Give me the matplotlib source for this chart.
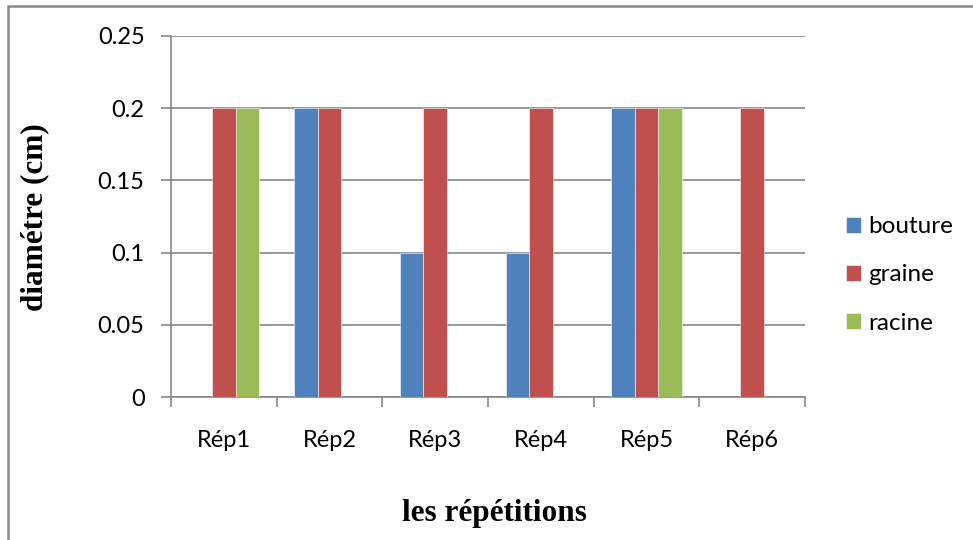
import matplotlib
matplotlib.use('Agg')
import matplotlib.pyplot as plt
from matplotlib.patches import Rectangle
import numpy as np

# data
categories = ['Rép1', 'Rép2', 'Rép3', 'Rép4', 'Rép5', 'Rép6']
bouture = [0, 0.2, 0.1, 0.1, 0.2, 0]
graine = [0.2, 0.2, 0.2, 0.2, 0.2, 0.2]
racine = [0.2, 0, 0, 0, 0.2, 0]

series = [('bouture', bouture, '#4F81BD'),
          ('graine', graine, '#C0504D'),
          ('racine', racine, '#9BBB59')]

plt.rcParams['font.family'] = ['Lato', 'DejaVu Sans']

fig = plt.figure(figsize=(9.73, 5.40), dpi=100)
ax = fig.add_axes([171 / 973, 1 - 397 / 540, 634 / 973, 361 / 540])

x = np.arange(len(categories))
w = 0.222
for i, (name, vals, col) in enumerate(series):
    ax.bar(x + (i - 1) * w, vals, w, color=col, label=name, zorder=3,
           edgecolor='white', linewidth=0.4)

ax.set_xlim(-0.5, len(categories) - 0.5)
ax.set_ylim(0, 0.25)
ax.set_yticks([0, 0.05, 0.1, 0.15, 0.2, 0.25])
ax.set_yticklabels(['0', '0.05', '0.1', '0.15', '0.2', '0.25'])
ax.set_xticks(x)
ax.set_xticklabels(categories)
ax.set_xticks(np.arange(-0.5, len(categories)), minor=True)
ax.tick_params(axis='x', which='major', length=0, pad=24, labelsize=17)
ax.tick_params(axis='x', which='minor', length=7, color='#868686', width=1.2)
ax.tick_params(axis='y', length=7, color='#868686', width=1.2, labelsize=17, pad=12)

ax.grid(axis='y', color='#868686', linewidth=1.2, zorder=0)
for s in ['top', 'right']:
    ax.spines[s].set_visible(False)
for s in ['left', 'bottom']:
    ax.spines[s].set_color('#868686')
    ax.spines[s].set_linewidth(1.2)

fig.text(35 / 973, 1 - 217 / 540, 'diamétre (cm)', rotation=90, ha='center', va='center',
         family='Liberation Serif', weight='bold', fontsize=22.5)
fig.text(494 / 973, 1 - 514 / 540, 'les répétitions', ha='center', va='center',
         family='Liberation Serif', weight='bold', fontsize=22.5)

ax.legend(loc='center left', bbox_to_anchor=(1.0647, 0.338), frameon=False, fontsize=17.5,
          borderpad=0, borderaxespad=0,
          handlelength=0.62, handleheight=0.62, handletextpad=0.3, labelspacing=1.12)

fig.patches.append(Rectangle((8 / 973, -0.1), 1.2, 1 - 6 / 540 + 0.1, transform=fig.transFigure,
                             fill=False, edgecolor='#888888', linewidth=1.8))

fig.savefig('out.png', dpi=100)
